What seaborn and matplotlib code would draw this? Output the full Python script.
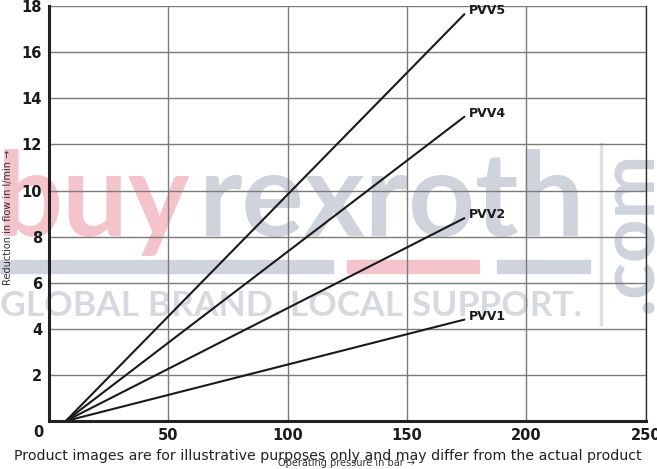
import matplotlib
matplotlib.use("Agg")
import matplotlib.pyplot as plt
import seaborn as sns
import pandas as pd

# start / end of each characteristic line (pressure in bar, reduction in l/min)
series = ["PVV1", "PVV2", "PVV4", "PVV5"]
pressure_start = [7, 7, 7, 7]
pressure_end = [174, 174, 174, 174]
flow_start = [0, 0, 0, 0]
flow_end = [4.4, 8.8, 13.2, 17.65]

x_ticks = [50, 100, 150, 200, 250]
y_ticks = [2, 4, 6, 8, 10, 12, 14, 16, 18]

rows = []
for s, x0, x1, y0, y1 in zip(series, pressure_start, pressure_end, flow_start, flow_end):
    rows.append({"series": s, "pressure": x0, "flow": y0})
    rows.append({"series": s, "pressure": x1, "flow": y1})
df = pd.DataFrame(rows)

sns.set_style("white")
narrow = ["Liberation Sans Narrow", "DejaVu Sans"]
pink = "#f5c3cb"
grey = "#cfd4dc"

fig = plt.figure(figsize=(6.57, 4.69), dpi=100)
ax = fig.add_axes([0.0746, 0.1023, 0.9084, 0.8847])
ax.set_zorder(1)
ax.patch.set_alpha(0)

# watermark, behind the chart
H = 469.0
fig.text(-0.004, 1 - 236 / H, "buy", fontsize=84, fontweight="bold", color=pink,
         family="Lato", zorder=0, ha="left", va="baseline")
fig.text(0.302, 1 - 236 / H, "rexroth", fontsize=84, fontweight="bold", color=grey,
         family="Lato", zorder=0, ha="left", va="baseline")
fig.text(0.0, 1 - 316 / H, "GLOBAL BRAND. LOCAL SUPPORT.", fontsize=25.5, fontweight="bold",
         color="#d6dae0", family="Lato", zorder=0, ha="left", va="baseline")
fig.text(0.960, 1 - 232 / H, ".com", fontsize=55, fontweight="bold", color=grey,
         family="Lato", rotation=90, zorder=0, ha="center", va="center")
bar_y = 1 - 273 / H
bar_h = 13 / H
fig.patches.append(plt.Rectangle((0.0, bar_y), 333 / 657, bar_h, transform=fig.transFigure,
                                 color=grey, zorder=0))
fig.patches.append(plt.Rectangle((347 / 657, bar_y), 132 / 657, bar_h, transform=fig.transFigure,
                                 color=pink, zorder=0))
fig.patches.append(plt.Rectangle((497 / 657, bar_y), 93 / 657, bar_h, transform=fig.transFigure,
                                 color=grey, zorder=0))
fig.patches.append(plt.Rectangle((600 / 657, 1 - 325 / H), 2 / 657, 182 / H,
                                 transform=fig.transFigure, color="#dde0e5", zorder=0))

for s in series:
    sns.lineplot(data=df[df["series"] == s], x="pressure", y="flow", ax=ax,
                 color="#1a1a1a", linewidth=1.5, legend=False)
    last = df[df["series"] == s].iloc[-1]
    ax.text(last["pressure"] + 2, last["flow"] + 0.15, s, fontsize=9,
            fontweight="bold", family=narrow, color="#1a1a1a", va="center", ha="left")

ax.set_xlim(0, 250)
ax.set_ylim(0, 18)
ax.set_xticks(x_ticks)
ax.set_yticks(y_ticks)
ax.grid(True, color="#7a7a7a", linewidth=1.0)
ax.tick_params(axis="both", length=0, labelsize=10.5, pad=5)
for lab in ax.get_xticklabels() + ax.get_yticklabels():
    lab.set_fontweight("bold")
    lab.set_family(narrow)
    lab.set_color("#1a1a1a")
ax.text(-4.6, -0.48, "0", fontsize=10.5, fontweight="bold", family=narrow,
        ha="center", va="center", color="#1a1a1a")

for side in ["left", "bottom"]:
    ax.spines[side].set_linewidth(2.2)
    ax.spines[side].set_color("#222222")
ax.spines["top"].set_visible(False)
ax.spines["right"].set_color("#333333")
ax.spines["right"].set_linewidth(1.0)

ax.set_xlabel("")
ax.set_ylabel("")
fig.text(0.012, 0.537, "Reduction in flow in l/min \u2192", rotation=90, fontsize=7,
         family=narrow, color="#333333", ha="center", va="center")
fig.text(0.527, 0.006, "Operating pressure in bar \u2192", fontsize=7, family=narrow,
         color="#333333", ha="center", va="baseline")
fig.text(0.499, 0.019, "Product images are for illustrative purposes only and may differ from the actual product",
         fontsize=10.2, family="DejaVu Sans", color="#222222", ha="center", va="baseline",
         zorder=5)

fig.savefig("out.png", dpi=100)
